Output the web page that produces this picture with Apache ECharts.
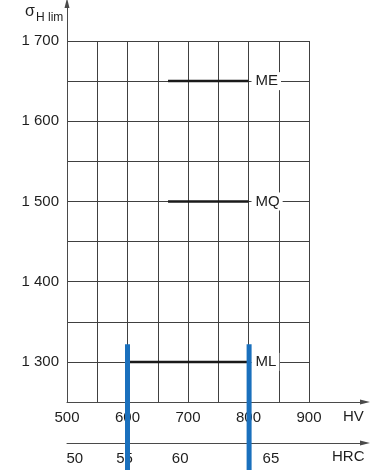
<!DOCTYPE html>
<html>
<head>
<meta charset="utf-8">
<script src="https://cdn.jsdelivr.net/npm/echarts@6/dist/echarts.min.js"></script>
<style>html,body{margin:0;padding:0;background:#fff}#c{width:370px;height:470px}</style>
</head>
<body>
<div id="c"></div>
<script>
// ---- data ----
const hvMin = 500, hvMax = 900, hvStep = 50;
const sigMin = 1250, sigMax = 1700, sigStep = 50;
const hrcLabels = ['50', '55', '60', '65'];
const hrcAtHV = [513, 595, 687, 837];
const segLabels = ['ME', 'MQ', 'ML'];
const segY = [1650, 1500, 1300];
const segStart = [667, 667, 600];
const segEnd = [800, 800, 800];
const blueX = [600, 801];
const blueTop = 1322;
const blueBottom = 1100;

const FONT = "'Liberation Sans', Arial, sans-serif";
const TXT = '#1e1e1e';
const GRID = '#404040';

const chart = echarts.init(document.getElementById('c'));

const series = [];
segLabels.forEach((name, i) => {
  series.push({
    type: 'line',
    xAxisIndex: 0, yAxisIndex: 0,
    data: [[segStart[i], segY[i]], [segEnd[i], segY[i]]],
    symbol: 'none',
    lineStyle: { color: '#1a1a1a', width: 2.5 },
    z: 3,
    silent: true,
    endLabel: {
      show: true,
      formatter: name,
      fontFamily: FONT, fontSize: 15, color: TXT,
      backgroundColor: '#fff',
      padding: [2, 3, 1, 4],
      distance: 3
    }
  });
});
blueX.forEach((x) => {
  series.push({
    type: 'line',
    xAxisIndex: 0, yAxisIndex: 0,
    data: [[x, blueTop], [x, blueBottom]],
    symbol: 'none',
    clip: false,
    lineStyle: { color: '#1a70bd', width: 5, cap: 'butt' },
    z: 10,
    silent: true
  });
});

const arrowLine = {
  show: true, onZero: false,
  symbol: ['none', 'triangle'], symbolSize: [5, 10], symbolOffset: [0, 0],
  lineStyle: { color: '#4a4a4a', width: 1 }
};

chart.setOption({
  animation: false,
  backgroundColor: '#fff',
  grid: [
    { left: 67, right: 61, top: 41, bottom: 68 },
    { left: 67, right: 5, top: 3, bottom: 68 }
  ],
  xAxis: [
    {
      gridIndex: 0, type: 'value', min: hvMin, max: hvMax, interval: hvStep,
      axisLine: { show: false }, axisTick: { show: false },
      axisLabel: {
        margin: 8, fontFamily: FONT, fontSize: 15, color: TXT,
        formatter: v => (v % 100 === 0 ? String(v) : '')
      },
      splitLine: { show: true, lineStyle: { color: GRID, width: 1 } }
    },
    {
      gridIndex: 1, type: 'value', min: 0, max: 1, position: 'bottom',
      axisLine: arrowLine, axisTick: { show: false }, axisLabel: { show: false },
      splitLine: { show: false }
    },
    {
      gridIndex: 1, type: 'value', min: 0, max: 1, position: 'bottom', offset: 41,
      axisLine: arrowLine, axisTick: { show: false }, axisLabel: { show: false },
      splitLine: { show: false }
    },
    {
      gridIndex: 0, type: 'value', min: hvMin, max: hvMax, position: 'bottom', offset: 41,
      axisLine: { show: false }, axisTick: { show: false },
      axisLabel: {
        show: true, margin: 8, fontFamily: FONT, fontSize: 15, color: TXT,
        customValues: hrcAtHV,
        formatter: v => { const k = hrcAtHV.indexOf(v); return k >= 0 ? hrcLabels[k] : ''; }
      },
      splitLine: { show: false }
    }
  ],
  yAxis: [
    {
      gridIndex: 0, type: 'value', min: sigMin, max: sigMax, interval: sigStep,
      axisLine: { show: false }, axisTick: { show: false },
      axisLabel: {
        margin: 8, fontFamily: FONT, fontSize: 15, color: TXT,
        formatter: v => (v % 100 === 0 ? String(v).replace(/^(\d)(\d{3})$/, '$1 $2') : '')
      },
      splitLine: { show: true, lineStyle: { color: GRID, width: 1 } }
    },
    {
      gridIndex: 1, type: 'value', min: 0, max: 1, position: 'left',
      axisLine: arrowLine, axisTick: { show: false }, axisLabel: { show: false },
      splitLine: { show: false }
    }
  ],
  graphic: [
    { type: 'text', left: 25, top: 4, style: { text: 'σ', font: '16px ' + FONT, fill: TXT } },
    { type: 'text', left: 36, top: 12, style: { text: 'H lim', font: '12px ' + FONT, fill: TXT } },
    { type: 'text', left: 343, top: 409, style: { text: 'HV', font: '15px ' + FONT, fill: TXT } },
    { type: 'text', left: 332, top: 449, style: { text: 'HRC', font: '15px ' + FONT, fill: TXT } }
  ],
  series: series
});
</script>
</body>
</html>
